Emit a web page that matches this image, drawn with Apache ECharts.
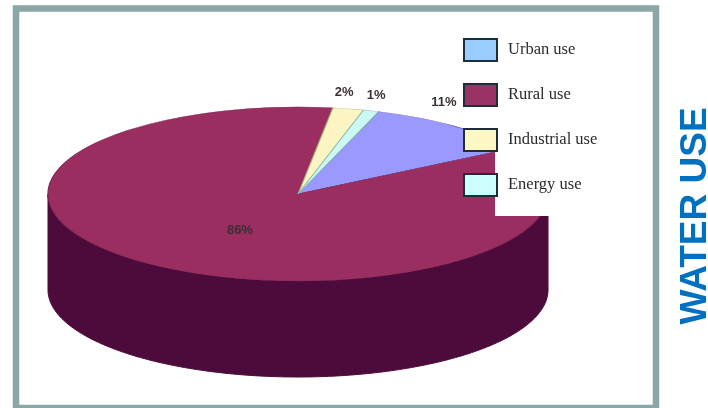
<!DOCTYPE html>
<html>
<head>
<meta charset="utf-8">
<style>html,body{margin:0;padding:0;background:#fff}#c{width:708px;height:408px}</style>
<script src="https://cdn.jsdelivr.net/npm/echarts@6/dist/echarts.min.js"></script>
</head>
<body>
<div id="c"></div>
<script>
const categories = ['Urban use', 'Rural use', 'Industrial use', 'Energy use'];
const shares = [11, 86, 2, 1];
const shareLabels = ['11%', '86%', '2%', '1%'];

const sliceColors = ['#9999ff', '#9a2e60', '#fbf5c4', '#ccf8f4'];
const sliceEdges = ['#5c4a9c', '#7d2452', '#a8a878', '#8fc0b0'];
const legendColors = ['#99ccff', '#993366', '#fdf7c3', '#ccffff'];
const sideColor = '#4d0b3b';
const startDeg = 18.8;
const CX = 298, CY = 194, RX = 250, RY = 87, DEPTH = 96;
const labelAt = [[1, 1, -10, -24], [0.49, 0.49, 9, 1], [1, 1, -4, -16], [1, 1, 5, -15]];

const total = shares.reduce((a, b) => a + b, 0);
const toRad = d => d * Math.PI / 180;
function rangeOf(i) {
  let before = 0;
  for (let k = 0; k < i; k++) before += shares[k];
  const a = startDeg + before / total * 360;
  return [a, a + shares[i] / total * 360];
}
function rim(deg, dy) {
  return [CX + RX * Math.sin(toRad(deg)), CY - RY * Math.cos(toRad(deg)) + dy];
}
function renderSlice(i, api) {
  const value = api.value(0);
  const [a, b] = rangeOf(i);
  const children = [];
  const from = Math.max(a, 90), to = Math.min(b, 270);
  if (to > from) {
    const pts = [];
    for (let d = from; d <= to; d += 1) pts.push(rim(d, 0));
    for (let d = to; d >= from; d -= 1) pts.push(rim(d, DEPTH));
    children.push({ type: 'polygon', shape: { points: pts }, style: { fill: sideColor, stroke: sideColor, lineWidth: 1 } });
  }
  children.push({
    type: 'sector', x: CX, y: CY, scaleY: RY / RX,
    shape: { cx: 0, cy: 0, r0: 0, r: RX, startAngle: toRad(a - 90), endAngle: toRad(b - 90), clockwise: true },
    style: { fill: sliceColors[i], stroke: sliceEdges[i], lineWidth: 1.2 }
  });
  const mid = (a + b) / 2, p = labelAt[i];
  children.push({
    type: 'text', z2: 10,
    x: CX + RX * p[0] * Math.sin(toRad(mid)) + p[2],
    y: CY - RY * p[1] * Math.cos(toRad(mid)) + p[3],
    style: { text: shareLabels[i], fill: '#3a3035', font: 'bold 13px "Liberation Sans"', align: 'center', verticalAlign: 'middle' }
  });
  return { type: 'group', children, info: value };
}

const chart = echarts.init(document.getElementById('c'), null, { renderer: 'canvas' });
chart.setOption({
  animation: false,
  backgroundColor: '#fff',
  legend: {
    orient: 'vertical', left: 458, top: 33, itemWidth: 33, itemGap: 21, itemHeight: 22, z: 6,
    selectedMode: false,
    data: categories.map((name, i) => ({
      name, icon: 'rect',
      itemStyle: { color: legendColors[i], borderColor: '#1f2d36', borderWidth: 2 }
    })),
    textStyle: { fontFamily: 'Liberation Serif', fontSize: 16.5, color: '#2a2a2a', padding: [-4, 0, 0, 6] }
  },
  graphic: [
    { type: 'rect', z: 0, shape: { x: 16, y: 8.5, width: 640, height: 399.5 }, style: { fill: '#fff', stroke: '#8aa6a7', lineWidth: 6.5 } },
    { type: 'rect', z: 3, shape: { x: 495, y: 120, width: 70, height: 96 }, style: { fill: '#fff' } },
    { type: 'text', z: 5, x: 696, y: 216, rotation: Math.PI / 2, style: { text: 'WATER USE', fill: '#0070c0', font: 'bold 37px "Liberation Sans"', align: 'center', verticalAlign: 'middle' } }
  ],
  series: categories.map((name, i) => ({
    type: 'custom', name, coordinateSystem: 'none', z: 2,
    silent: true,
    itemStyle: { color: legendColors[i] },
    data: [[shares[i]]],
    renderItem: (params, api) => renderSlice(i, api)
  }))
});
</script>
</body>
</html>
